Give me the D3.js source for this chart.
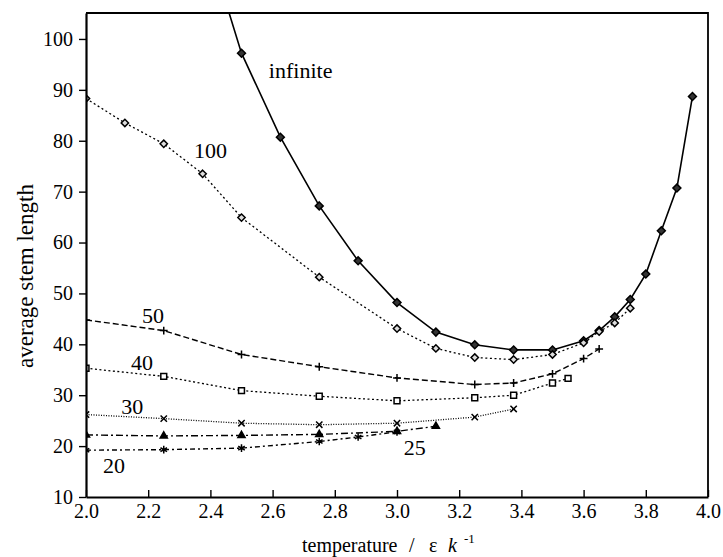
<!DOCTYPE html>
<head>
    <script src="https://d3js.org/d3.v7.min.js"></script>
    <style>
        body {margin: 0; background: #fff;}
        svg text {font-family: "Liberation Serif", "DejaVu Serif", serif; fill: #000;}
        .axis path, .axis line {stroke: #000;}
        .axis text {font-size: 20px;}
    </style>
</head>
<body>
</body>
<script>
  // temperature (x) and average stem length (y) for each series
  const tInfinite = [2.375, 2.5, 2.625, 2.75, 2.875, 3.0, 3.125, 3.25, 3.375, 3.5, 3.6, 3.65, 3.7, 3.75, 3.8, 3.85, 3.9, 3.95];
  const lInfinite = [122, 97.2, 80.7, 67.2, 56.4, 48.2, 42.4, 39.9, 38.9, 38.9, 40.7, 42.7, 45.4, 48.8, 53.8, 62.3, 70.7, 88.7];
  const t100 = [2.0, 2.125, 2.25, 2.375, 2.5, 2.75, 3.0, 3.125, 3.25, 3.375, 3.5, 3.6, 3.65, 3.7, 3.75];
  const l100 = [88.3, 83.5, 79.4, 73.5, 64.9, 53.2, 43.1, 39.2, 37.4, 37.0, 38.0, 40.3, 42.5, 44.2, 47.1];
  const t50 = [2.0, 2.25, 2.5, 2.75, 3.0, 3.25, 3.375, 3.5, 3.6, 3.65];
  const l50 = [44.8, 42.7, 38.0, 35.6, 33.4, 32.1, 32.4, 34.2, 37.2, 39.1];
  const t40 = [2.0, 2.25, 2.5, 2.75, 3.0, 3.25, 3.375, 3.5, 3.55];
  const l40 = [35.3, 33.7, 30.9, 29.8, 28.9, 29.5, 30.0, 32.4, 33.3];
  const t30 = [2.0, 2.25, 2.5, 2.75, 3.0, 3.25, 3.375];
  const l30 = [26.2, 25.4, 24.5, 24.2, 24.5, 25.7, 27.3];
  const t25 = [2.0, 2.25, 2.5, 2.75, 3.0, 3.125];
  const l25 = [22.2, 22.0, 22.1, 22.3, 22.9, 23.9];
  const t20 = [2.0, 2.25, 2.5, 2.75, 2.875, 3.0];
  const l20 = [19.2, 19.3, 19.6, 20.9, 21.8, 22.8];

  const seriesNames = ["infinite", "100", "50", "40", "30", "25", "20"];
  const xTicks = [2.0, 2.2, 2.4, 2.6, 2.8, 3.0, 3.2, 3.4, 3.6, 3.8, 4.0];
  const yTicks = [10, 20, 30, 40, 50, 60, 70, 80, 90, 100];

  const width = 723,
        height = 557,
        mLeft = 86, mRight = 708, mTop = 13, mBottom = 497;

  const x = d3.scaleLinear().domain([2.0, 4.0]).range([mLeft, mRight]);
  const y = d3.scaleLinear().domain([10, 105.1]).range([mBottom, mTop]);

  const svg = d3.select("body").append("svg")
          .attr("width", width)
          .attr("height", height);

  svg.append("defs").append("clipPath").attr("id", "plot")
    .append("rect")
      .attr("x", mLeft).attr("y", mTop)
      .attr("width", mRight - mLeft).attr("height", mBottom - mTop);

  // style per series: dash, marker, marker size, fill
  const styles = {
    "infinite": {t: tInfinite, l: lInfinite, dash: null, width: 1.6, sym: d3.symbolDiamond2, size: 40, fill: "#333"},
    "100": {t: t100, l: l100, dash: "2,2.6", width: 1.3, sym: d3.symbolDiamond2, size: 34, fill: "#ddd"},
    "50": {t: t50, l: l50, dash: "6,3", width: 1.4, sym: d3.symbolPlus, size: 22, fill: "none"},
    "40": {t: t40, l: l40, dash: "2,2.5", width: 1.3, sym: d3.symbolSquare2, size: 44, fill: "#fff"},
    "30": {t: t30, l: l30, dash: "1,1.5", width: 1.3, sym: d3.symbolTimes, size: 28, fill: "none"},
    "25": {t: t25, l: l25, dash: "7,3,2,3", width: 1.4, sym: d3.symbolTriangle, size: 22, fill: "#000"},
    "20": {t: t20, l: l20, dash: "5,3,2,3", width: 1.4, sym: d3.symbolAsterisk, size: 40, fill: "none"}
  };

  const line = d3.line().x(d => x(d[0])).y(d => y(d[1]));
  const plot = svg.append("g").attr("clip-path", "url(#plot)");

  seriesNames.forEach(name => {
    const s = styles[name];
    const pts = s.t.map((t, i) => [t, s.l[i]]);
    plot.append("path")
      .attr("d", line(pts))
      .attr("fill", "none")
      .attr("stroke", "#000")
      .attr("stroke-width", s.width)
      .attr("stroke-dasharray", s.dash);
    plot.selectAll(null)
      .data(pts)
      .enter().append("path")
      .attr("transform", d => `translate(${ x(d[0]) },${ y(d[1]) })`)
      .attr("d", d3.symbol().type(s.sym).size(s.size))
      .attr("fill", s.fill)
      .attr("stroke", "#000")
      .attr("stroke-width", 1.5);
  });

  // frame
  svg.append("path")
    .attr("d", `M${ mLeft },${ mTop }H${ mRight }V${ mBottom }`)
    .attr("fill", "none")
    .attr("stroke", "#000")
    .attr("stroke-width", 1.8);

  svg.append("g").attr("class", "axis")
      .attr("transform", `translate(0,${ mBottom })`)
      .call(d3.axisBottom(x).tickValues(xTicks).tickFormat(d3.format(".1f"))
        .tickSizeInner(-7).tickSizeOuter(0).tickPadding(7))
      .call(g => g.attr("font-family", null).attr("font-size", null))
      .call(g => g.select(".domain").attr("stroke-width", 2.2))
      .call(g => g.selectAll(".tick line").attr("stroke-width", 1.4));

  svg.append("g").attr("class", "axis")
      .attr("transform", `translate(${ mLeft },0)`)
      .call(d3.axisLeft(y).tickValues(yTicks).tickSizeInner(7).tickSizeOuter(0).tickPadding(6))
      .call(g => g.attr("font-family", null).attr("font-size", null))
      .call(g => g.select(".domain").attr("stroke-width", 2.2))
      .call(g => g.selectAll(".tick line").attr("stroke-width", 1.4));

  // series labels
  const labelAt = {
    "infinite": [2.588, 92.4], "100": [2.347, 76.7], "50": [2.18, 44.2], "40": [2.145, 35.0],
    "30": [2.113, 26.4], "25": [3.022, 18.3], "20": [2.055, 14.8]
  };
  svg.selectAll(".lbl")
    .data(seriesNames)
    .enter().append("text")
      .attr("class", "lbl")
      .attr("x", d => x(labelAt[d][0]))
      .attr("y", d => y(labelAt[d][1]))
      .style("font-size", "22px")
      .text(d => d);

  // axis titles
  const xt = svg.append("text")
      .attr("y", 552)
      .style("font-size", "20px");
  xt.append("tspan").attr("x", 302).text("temperature");
  xt.append("tspan").attr("x", 409).text("/");
  xt.append("tspan").attr("x", 429).text("ε");
  xt.append("tspan").attr("x", 448).style("font-style", "italic").text("k");
  xt.append("tspan").attr("x", 464).attr("dy", -9).style("font-size", "13px").text("-1");

  svg.append("text")
      .attr("transform", "translate(33,276) rotate(-90)")
      .attr("text-anchor", "middle")
      .style("font-size", "23px")
      .text("average stem length");
</script>
